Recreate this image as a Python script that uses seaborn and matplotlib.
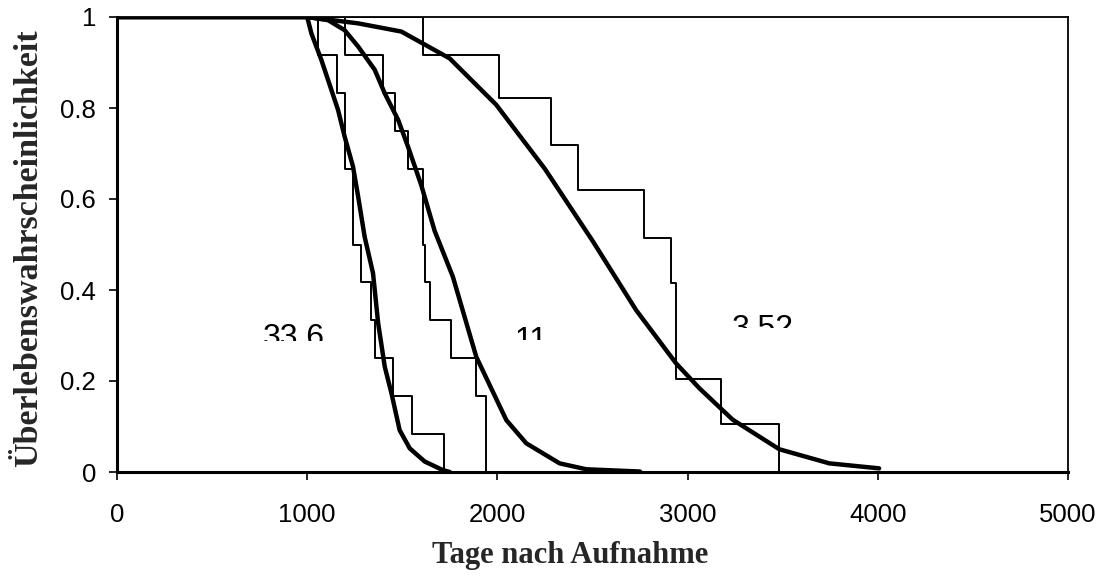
import matplotlib
matplotlib.use("Agg")
import matplotlib.pyplot as plt
import seaborn as sns
from matplotlib.transforms import Bbox, TransformedBbox

# ---- data ----
# Kaplan-Meier step estimates
t_km_336 = [0, 1057, 1157, 1200, 1242, 1285, 1338, 1357, 1452, 1552, 1717]
s_km_336 = [1, 0.917, 0.833, 0.667, 0.5, 0.417, 0.333, 0.25, 0.167, 0.083, 0]

t_km_11 = [0, 1197, 1399, 1460, 1530, 1609, 1618, 1646, 1758, 1889, 1942]
s_km_11 = [1, 0.917, 0.833, 0.75, 0.667, 0.5, 0.417, 0.333, 0.25, 0.167, 0]

t_km_352 = [0, 1607, 2011, 2283, 2423, 2773, 2913, 2939, 3175, 3482]
s_km_352 = [1, 0.917, 0.823, 0.719, 0.62, 0.514, 0.415, 0.204, 0.105, 0]

# fitted survival curves
t_fit_336 = [0, 1000, 1022, 1075, 1127, 1162, 1197, 1241, 1268, 1302, 1346, 1373,
             1408, 1443, 1486, 1539, 1618, 1714, 1750]
s_fit_336 = [1, 1, 0.964, 0.905, 0.84, 0.796, 0.737, 0.671, 0.605, 0.517, 0.437, 0.327,
             0.231, 0.173, 0.092, 0.052, 0.023, 0.004, 0]

t_fit_11 = [0, 1000, 1110, 1197, 1268, 1355, 1408, 1478, 1530, 1600, 1670, 1766,
            1889, 2047, 2152, 2327, 2467, 2750]
s_fit_11 = [1, 1, 0.993, 0.971, 0.935, 0.884, 0.832, 0.774, 0.715, 0.63, 0.53, 0.429,
            0.253, 0.114, 0.063, 0.019, 0.006, 0.001]

t_fit_352 = [0, 1000, 1268, 1495, 1749, 1994, 2250, 2502, 2729, 2939, 3062, 3237,
             3482, 3745, 4007]
s_fit_352 = [1, 1, 0.986, 0.968, 0.909, 0.807, 0.666, 0.507, 0.356, 0.239, 0.184, 0.115,
             0.05, 0.019, 0.008]

curve_labels = ["33.6", "11", "3.52"]
label_x = [930, 2180, 3393]
label_top = [0.327, 0.321, 0.347]
label_clip = [0.288, 0.290, 0.316]

x_ticks = [0, 1000, 2000, 3000, 4000, 5000]
y_ticks = [0, 0.2, 0.4, 0.6, 0.8, 1]
y_ticklabels = ["0", "0.2", "0.4", "0.6", "0.8", "1"]

# ---- figure ----
sns.set_style("ticks")
plt.rcParams["font.family"] = ["Liberation Sans", "DejaVu Sans"]

fig = plt.figure(figsize=(10.99, 5.79), dpi=100)
ax = fig.add_axes([117 / 1099, 1 - 472 / 579, (1068 - 117) / 1099, (472 - 17) / 579])

for t, s in [(t_km_336, s_km_336), (t_km_11, s_km_11), (t_km_352, s_km_352)]:
    sns.lineplot(x=t, y=s, ax=ax, color="black", linewidth=1.4,
                 drawstyle="steps-post", estimator=None, sort=False)

for t, s in [(t_fit_336, s_fit_336), (t_fit_11, s_fit_11), (t_fit_352, s_fit_352)]:
    sns.lineplot(x=t, y=s, ax=ax, color="black", linewidth=3.2,
                 estimator=None, sort=False, solid_joinstyle="round")

ax.set_xlim(0, 5000)
ax.set_ylim(0, 1)
ax.set_xticks(x_ticks)
ax.set_xticklabels([str(v) for v in x_ticks])
ax.set_yticks(y_ticks)
ax.set_yticklabels(y_ticklabels)
ax.tick_params(axis="both", direction="out", length=6, width=1.2,
               labelsize=18.5, colors="black")
ax.tick_params(axis="x", pad=16)
ax.tick_params(axis="y", pad=9)

for side in ["left", "bottom"]:
    ax.spines[side].set_linewidth(2.2)
    ax.spines[side].set_color("black")
for side in ["top", "right"]:
    ax.spines[side].set_visible(True)
    ax.spines[side].set_linewidth(1.3)
    ax.spines[side].set_color("black")

ax.set_xlabel("Tage nach Aufnahme", fontsize=22, fontweight="bold",
              family=["Liberation Serif", "DejaVu Serif"])
ax.set_ylabel("Überlebenswahrscheinlichkeit", fontsize=24.5, fontweight="bold",
              family=["Liberation Serif", "DejaVu Serif"])
ax.xaxis.set_label_coords(0.476, -0.152)
ax.yaxis.set_label_coords(-0.077, 0.492)

for lab, lx, ly, lc in zip(curve_labels, label_x, label_top, label_clip):
    txt = ax.text(lx, ly, lab, fontsize=23, ha="center", va="top", color="black")
    clip = TransformedBbox(Bbox([[0, lc], [5000, 1]]), ax.transData)
    txt.set_clip_box(clip)
    txt.set_clip_on(True)

fig.savefig("out.png", dpi=100)
